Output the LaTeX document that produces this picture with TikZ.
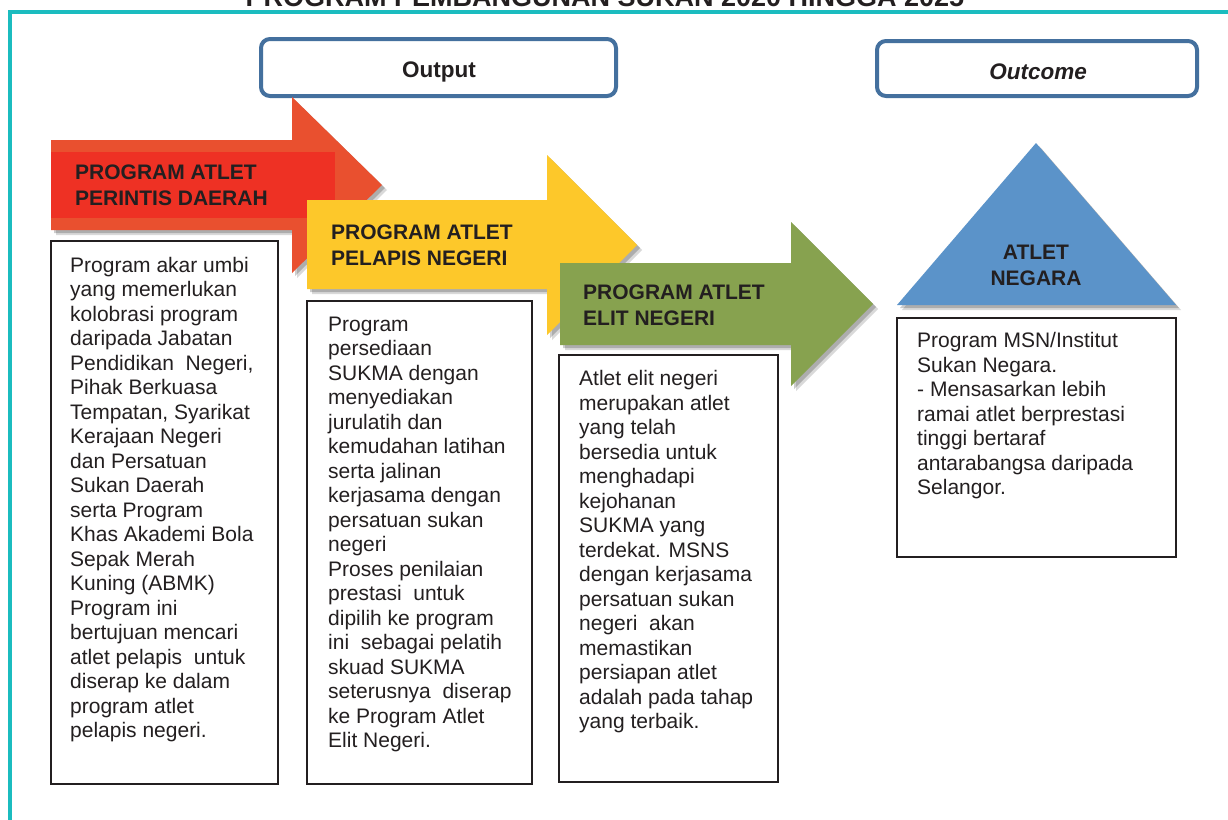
\documentclass[tikz,border=0pt]{standalone}
\usepackage{fontspec}
\setmainfont{Liberation Sans}
\usetikzlibrary{shadows}
\definecolor{frameteal}{HTML}{1BBCBF}
\definecolor{boxblue}{HTML}{44709E}
\definecolor{redouter}{HTML}{E9502F}
\definecolor{redinner}{HTML}{EE3124}
\definecolor{yellowarrow}{HTML}{FDC82A}
\definecolor{greenarrow}{HTML}{87A24F}
\definecolor{triblue}{HTML}{5B93C9}
\definecolor{inkdark}{HTML}{231F20}
\begin{document}
\begin{tikzpicture}[x=1pt,y=-1pt,
  softshadow/.style={drop shadow={shadow xshift=3pt,shadow yshift=-3pt,opacity=0.2,fill=black},
                     drop shadow={shadow xshift=5pt,shadow yshift=-5pt,opacity=0.15,fill=black}},
  bodytext/.style={anchor=north west,inner sep=0pt,align=left,font=\fontsize{21}{24.5}\selectfont,text=inkdark},
  headtext/.style={anchor=north west,inner sep=0pt,align=left,font=\bfseries\fontsize{21}{26}\selectfont,text=inkdark},
  textbox/.style={draw=inkdark,line width=1.8pt,fill=white},
  labelbox/.style={draw=boxblue,line width=4pt,rounded corners=9pt,fill=white}]
\clip (0,0) rectangle (1228,819);
\fill[white] (0,0) rectangle (1228,819);
% title (cut off at the top, as in the original)
\node[anchor=base,inner sep=0pt,font=\bfseries\fontsize{27}{30}\selectfont,text=inkdark] (title) at (605,6) {PROGRAM PEMBANGUNAN SUKAN 2020 HINGGA 2025};
% frame
\draw[frameteal,line width=4pt] (10,840) -- (10,11.5) -- (1240,11.5);
% label boxes
\draw[labelbox] (261,39) rectangle (616,96);
\node[anchor=base,inner sep=0pt,font=\bfseries\fontsize{22.5}{26}\selectfont,text=inkdark] (output) at (439,77) {Output};
\draw[labelbox] (877,41) rectangle (1197,96);
\node[anchor=base,inner sep=0pt,font=\bfseries\itshape\fontsize{22.5}{26}\selectfont,text=inkdark] (outcome) at (1038,79) {Outcome};
% red arrow
\fill[redouter,softshadow] (51,140) -- (292,140) -- (292,97) -- (382,185) -- (292,273) -- (292,230) -- (51,230) -- cycle;
\fill[redinner] (51,152) rectangle (335,218);
\node[headtext] (h1) at (75,164.5) {PROGRAM ATLET\\PERINTIS DAERAH};
% yellow arrow
\fill[yellowarrow,softshadow] (307,200) -- (547,200) -- (547,155) -- (637,245) -- (547,335) -- (547,289) -- (307,289) -- cycle;
\node[headtext] (h2) at (331,224.5) {PROGRAM ATLET\\PELAPIS NEGERI};
% green arrow
\fill[greenarrow,softshadow] (560,263) -- (791,263) -- (791,222) -- (873,304) -- (791,386) -- (791,345) -- (560,345) -- cycle;
\node[headtext] (h3) at (583,284.5) {PROGRAM ATLET\\ELIT NEGERI};
% triangle
\fill[triblue,softshadow] (1036,143) -- (1176,305) -- (897,305) -- cycle;
\node[anchor=north,inner sep=0pt,align=center,font=\bfseries\fontsize{21}{26}\selectfont,text=inkdark] (h4) at (1036,244.5) {ATLET\\NEGARA};
% text boxes
\draw[textbox] (51,241) rectangle (278,784);
\node[bodytext] (t1) at (70,257) {Program akar umbi\\yang memerlukan\\kolobrasi program\\daripada Jabatan\\Pendidikan\ \ Negeri,\\Pihak Berkuasa\\Tempatan, Syarikat\\Kerajaan Negeri\\dan Persatuan\\Sukan Daerah\\serta Program\\Khas Akademi Bola\\Sepak Merah\\Kuning (ABMK)\\Program ini\\bertujuan mencari\\atlet pelapis\ \ untuk\\diserap ke dalam\\program atlet\\pelapis negeri.};
\draw[textbox] (307,301) rectangle (532,784);
\node[bodytext] (t2) at (328,316.5) {Program\\persediaan\\SUKMA dengan\\menyediakan\\jurulatih dan\\kemudahan latihan\\serta jalinan\\kerjasama dengan\\persatuan sukan\\negeri\\Proses penilaian\\prestasi\ \ untuk\\dipilih ke program\\ini\ \ sebagai pelatih\\skuad SUKMA\\seterusnya\ \ diserap\\ke Program Atlet\\Elit Negeri.};
\draw[textbox] (559,355) rectangle (778,782);
\node[bodytext] (t3) at (579,370.5) {Atlet elit negeri\\merupakan atlet\\yang telah\\bersedia untuk\\menghadapi\\kejohanan\\SUKMA yang\\terdekat. MSNS\\dengan kerjasama\\persatuan sukan\\negeri\ \ akan\\memastikan\\persiapan atlet\\adalah pada tahap\\yang terbaik.};
\draw[textbox] (897,318) rectangle (1176,557);
\node[bodytext] (t4) at (917,332.5) {Program MSN/Institut\\Sukan Negara.\\- Mensasarkan lebih\\ramai atlet berprestasi\\tinggi bertaraf\\antarabangsa daripada\\Selangor.};
\end{tikzpicture}
\end{document}
